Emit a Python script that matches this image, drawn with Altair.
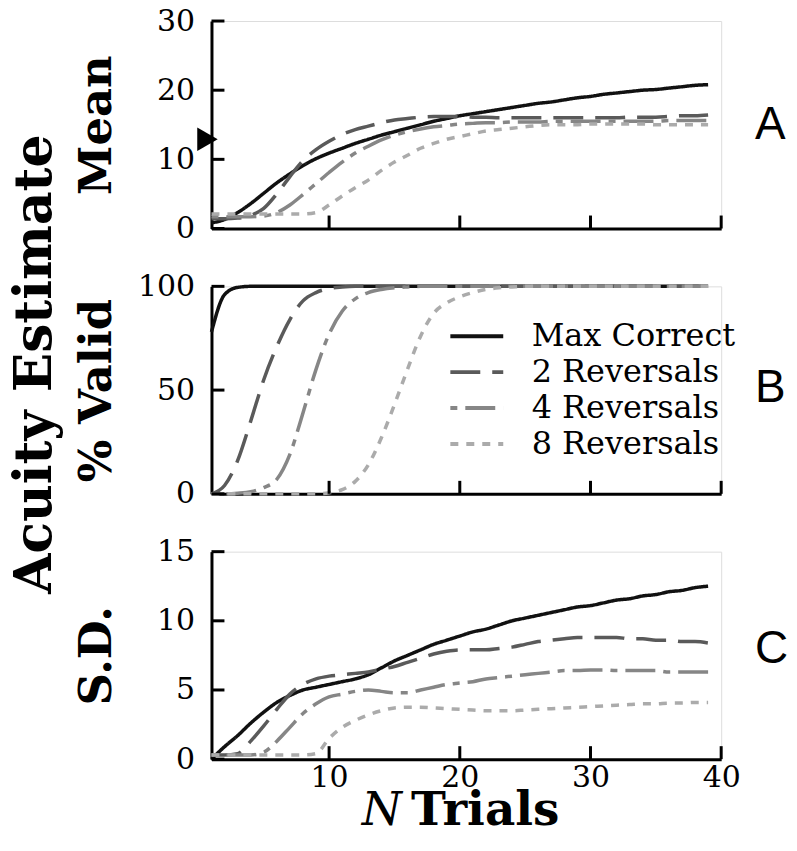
import altair as alt
import pandas as pd

trials = list(range(1, 40))
series_names = ["Max Correct", "2 Reversals", "4 Reversals", "8 Reversals"]
series_colors = ["#111111", "#5a5a5a", "#868686", "#ababab"]
series_dashes = [[1, 0], [30, 12], [7, 8, 30, 8], [8, 8]]

mean_max = [0.8, 1.3, 2.3, 3.6, 5.1, 6.6, 7.9, 9.1, 10.1, 10.9,
            11.6, 12.3, 12.9, 13.5, 14.0, 14.5, 15.0, 15.5, 15.9, 16.3,
            16.6, 16.9, 17.2, 17.5, 17.8, 18.1, 18.3, 18.6, 18.9, 19.1,
            19.4, 19.6, 19.8, 20.0, 20.1, 20.3, 20.5, 20.7, 20.8]
mean_2 = [1.4, 1.4, 1.5, 1.9, 2.9, 5.0, 7.5, 9.8, 11.4, 12.6,
          13.6, 14.3, 14.8, 15.3, 15.7, 15.9, 16.1, 16.2, 16.2, 16.2,
          16.1, 16.1, 16.0, 16.0, 16.0, 16.0, 16.0, 16.0, 16.0, 16.0,
          16.0, 16.0, 16.1, 16.1, 16.1, 16.2, 16.3, 16.3, 16.4]
mean_4 = [1.7, 1.7, 1.7, 1.7, 1.8, 2.3, 3.4, 4.9, 6.5, 8.1,
          9.6, 10.9, 11.9, 12.8, 13.5, 14.0, 14.4, 14.7, 14.9, 15.1,
          15.2, 15.3, 15.3, 15.4, 15.4, 15.4, 15.5, 15.5, 15.5, 15.5,
          15.5, 15.5, 15.5, 15.5, 15.5, 15.6, 15.6, 15.6, 15.6]
mean_8 = [2.1, 2.1, 2.1, 2.1, 2.1, 2.1, 2.1, 2.1, 2.3, 3.4,
          4.7, 5.9, 7.0, 8.4, 9.6, 10.6, 11.6, 12.3, 12.9, 13.3,
          13.7, 14.1, 14.3, 14.5, 14.7, 14.9, 15.0, 15.0, 15.0, 15.1,
          15.1, 15.1, 15.1, 15.1, 15.0, 15.0, 15.0, 15.0, 15.0]

valid_max = [78, 96, 99.5] + [100] * 36
valid_2 = [0, 4, 16, 35, 55, 71, 84, 93, 97, 99, 99.7] + [100] * 28
valid_4 = [0, 0, 0.3, 1, 3, 7, 19, 39, 60, 77, 88, 94, 97, 98.5, 99.3, 99.7] + [100] * 23
valid_8 = [0] * 9 + [0.5, 2, 6, 14, 27, 43, 60, 76, 87, 92, 95, 97, 98.5, 99.3, 99.7] + [100] * 15

sd_max = [0.0, 0.9, 1.7, 2.6, 3.4, 4.1, 4.6, 5.0, 5.2, 5.4,
          5.6, 5.8, 6.1, 6.6, 7.1, 7.5, 7.9, 8.3, 8.6, 8.9,
          9.2, 9.4, 9.7, 10.0, 10.2, 10.4, 10.6, 10.8, 11.0, 11.1,
          11.3, 11.5, 11.6, 11.8, 11.9, 12.1, 12.2, 12.4, 12.5]
sd_2 = [0.3, 0.3, 0.4, 1.3, 2.4, 3.6, 4.7, 5.4, 5.8, 6.0,
        6.1, 6.2, 6.3, 6.5, 6.7, 7.0, 7.3, 7.6, 7.8, 7.9,
        7.9, 7.9, 8.0, 8.1, 8.3, 8.5, 8.6, 8.7, 8.8, 8.8,
        8.8, 8.8, 8.7, 8.7, 8.6, 8.6, 8.5, 8.5, 8.4]
sd_4 = [0.3, 0.3, 0.3, 0.3, 0.5, 1.3, 2.3, 3.3, 4.0, 4.5,
        4.7, 4.9, 5.0, 4.9, 4.8, 4.8, 5.0, 5.2, 5.4, 5.5,
        5.6, 5.8, 5.9, 6.0, 6.1, 6.2, 6.3, 6.4, 6.4, 6.45,
        6.45, 6.4, 6.4, 6.4, 6.4, 6.3, 6.3, 6.3, 6.3]
sd_8 = [0.3, 0.3, 0.3, 0.3, 0.3, 0.3, 0.3, 0.3, 0.4, 1.5,
        2.3, 2.8, 3.2, 3.5, 3.7, 3.75, 3.75, 3.7, 3.65, 3.6,
        3.55, 3.5, 3.5, 3.5, 3.55, 3.6, 3.65, 3.7, 3.75, 3.8,
        3.85, 3.9, 3.95, 4.0, 4.0, 4.05, 4.05, 4.1, 4.1]

x_tick_values = [10, 20, 30, 40]
mean_ticks = [0, 10, 20, 30]
valid_ticks = [0, 50, 100]
sd_ticks = [0, 5, 10, 15]
reference_marker = [12.9]

SERIF = "DejaVu Serif"
W = 511
H = 208
TICK = 13


def long_df(values_by_series):
    rows = []
    for name, vals in zip(series_names, values_by_series):
        for t, v in zip(trials, vals):
            rows.append({"trial": t, "series": name, "value": v})
    return pd.DataFrame(rows)


color_scale = alt.Scale(domain=series_names, range=series_colors)
dash_scale = alt.Scale(domain=series_names, range=series_dashes)


def panel(values, ydomain, yticks, ytitle, letter, letter_y, show_x_labels, legend):
    x_enc = alt.X(
        "trial:Q",
        scale=alt.Scale(domain=[1, 40], nice=False, zero=False),
        axis=alt.Axis(values=x_tick_values, ticks=False, tickSize=0, labels=show_x_labels,
                      labelFlush=False, domain=True, domainWidth=3, domainColor="black",
                      grid=False, title=None, labelFont=SERIF, labelFontSize=30,
                      labelColor="black", labelPadding=3),
    )
    y_enc = alt.Y(
        "value:Q",
        scale=alt.Scale(domain=ydomain, nice=False, zero=True),
        axis=alt.Axis(values=yticks, ticks=False, tickSize=0, domain=True, domainWidth=3,
                      domainColor="black", grid=False, labelFont=SERIF, labelFontSize=30,
                      labelColor="black", labelPadding=17, labelFlush=False, title=ytitle,
                      titleX=-101, titleY=H / 2, titleAngle=270, titleAlign="center",
                      titleBaseline="alphabetic", titleFont=SERIF, titleFontWeight="bold",
                      titleFontSize=45, titleColor="black"),
    )
    lines = alt.Chart(long_df(values)).mark_line(strokeWidth=3.5, interpolate="monotone").encode(
        x=x_enc,
        y=y_enc,
        color=alt.Color("series:N", scale=color_scale, legend=legend),
        strokeDash=alt.StrokeDash("series:N", scale=dash_scale, legend=legend),
        detail="series:N",
    )
    xt = alt.Chart(pd.DataFrame({"trial": x_tick_values})).mark_rule(
        color="black", strokeWidth=3).encode(x=x_enc, y=alt.value(H), y2=alt.value(H - TICK))
    yt = alt.Chart(pd.DataFrame({"value": yticks})).mark_rule(
        color="black", strokeWidth=3).encode(y=y_enc, x=alt.value(0), x2=alt.value(TICK))
    lab = alt.Chart(pd.DataFrame({"lab": [letter]})).mark_text(
        font="Liberation Sans", fontSize=46, align="left", baseline="middle", color="black"
    ).encode(x=alt.value(545), y=alt.value(letter_y), text="lab:N")
    return [lines, xt, yt, lab], x_enc, y_enc


legend_b = alt.Legend(orient="none", legendX=250, legendY=34, title=None,
                      symbolType="M-2.5,0H2.5", symbolSize=450, symbolStrokeWidth=4,
                      labelFont=SERIF, labelFontSize=32, labelColor="black", labelOffset=39,
                      labelLimit=0, rowPadding=4, padding=0)

layers_a, xa, ya = panel([mean_max, mean_2, mean_4, mean_8], [0, 30], mean_ticks, "Mean",
                         "A", 104, False, None)
marker = alt.Chart(pd.DataFrame({"value": reference_marker})).mark_point(
    shape="triangle-right", filled=True, color="black", opacity=1, size=560
).encode(x=alt.value(-4), y=ya)
chart_a = alt.layer(*layers_a, marker).properties(width=W, height=H)

layers_b, xb, yb = panel([valid_max, valid_2, valid_4, valid_8], [0, 100], valid_ticks, "% Valid",
                         "B", 102, False, legend_b)
acuity = alt.Chart(pd.DataFrame({"lab": ["Acuity Estimate"]})).mark_text(
    angle=270, font=SERIF, fontWeight="bold", fontSize=52, align="center",
    baseline="alphabetic", color="black"
).encode(x=alt.value(-161), y=alt.value(78), text="lab:N")
chart_b = alt.layer(*layers_b, acuity).properties(width=W, height=H)

layers_c, xc, yc = panel([sd_max, sd_2, sd_4, sd_8], [0, 15], sd_ticks, "S.D.",
                         "C", 98, True, None)
n_text = alt.Chart(pd.DataFrame({"lab": ["N"]})).mark_text(
    font=SERIF, fontStyle="italic", fontSize=46, align="right", baseline="alphabetic", color="black"
).encode(x=alt.value(191), y=alt.value(H + 66), text="lab:N")
trials_text = alt.Chart(pd.DataFrame({"lab": ["Trials"]})).mark_text(
    font=SERIF, fontWeight="bold", fontSize=47, align="left", baseline="alphabetic", color="black"
).encode(x=alt.value(200), y=alt.value(H + 66), text="lab:N")
chart_c = alt.layer(*layers_c, n_text, trials_text).properties(width=W, height=H)

chart = alt.vconcat(chart_a, chart_b, chart_c, spacing=58, bounds="flush").resolve_legend(
    color="independent", strokeDash="independent"
).properties(padding={"top": -4, "left": 0, "right": 0, "bottom": 0}).configure_view(
    stroke=None).configure(background="white")

chart.save("out.html", embed_options={"renderer": "svg", "actions": False})
